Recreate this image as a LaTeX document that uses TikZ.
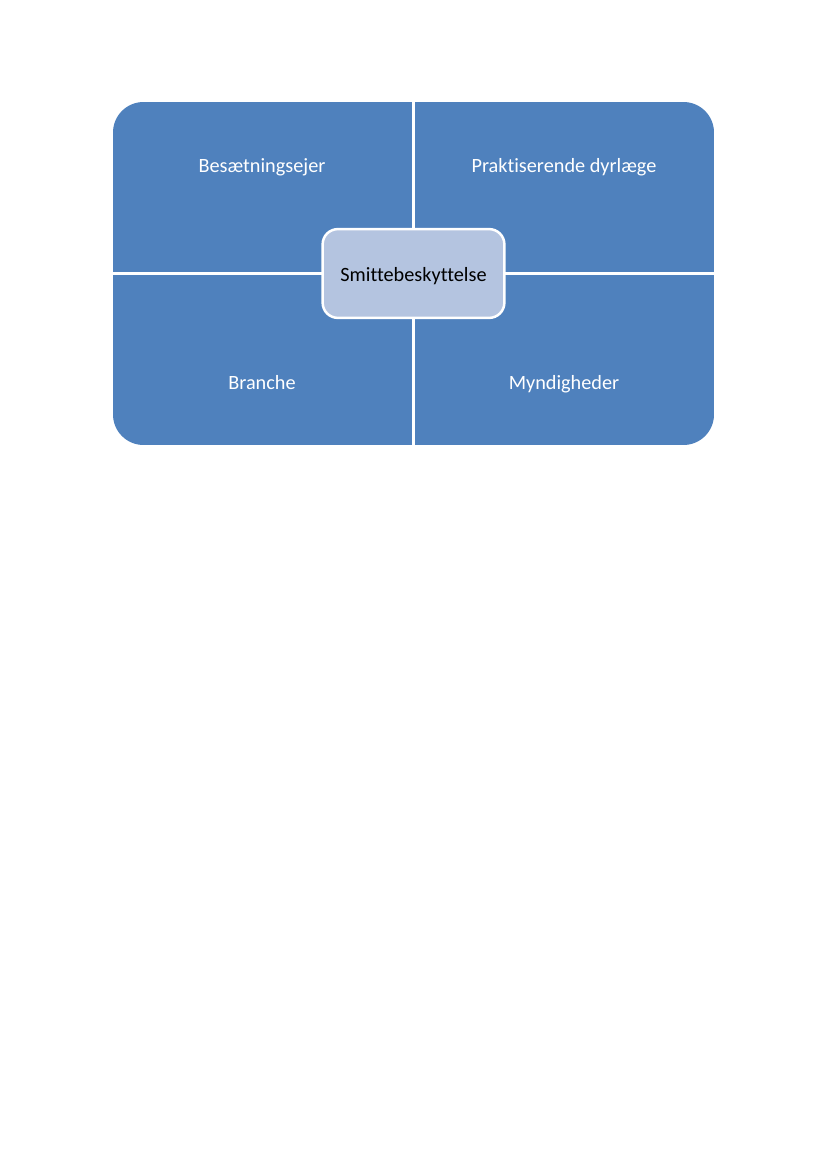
\documentclass[tikz,border=0pt]{standalone}
\usepackage{fontspec}
\setmainfont[Ligatures=NoCommon]{Carlito}
\definecolor{quadblue}{RGB}{79,129,189}
\definecolor{hubblue}{RGB}{180,196,224}

\begin{document}
\begin{tikzpicture}[x=0.7207pt,y=-0.7207pt,
    quad/.style={fill=quadblue},
    divider/.style={draw=white,line width=2.2pt},
    qlabel/.style={text=white,anchor=base,font=\fontsize{14.6}{17}\selectfont},
    hub/.style={draw=white,line width=1.8pt,fill=hubblue,rounded corners=11pt,
        minimum width=131pt,minimum height=64pt}]
    \useasboundingbox (0,0) rectangle (826,1169);

    % Quadrants
    \begin{scope}
        \clip[rounded corners=22pt] (113,102) rectangle (714,445);
        \fill[quad] (113,102) rectangle (714,445);
    \end{scope}
    \coordinate (top) at (413.5,102);
    \coordinate (bottom) at (413.5,445);
    \coordinate (left) at (113,273.5);
    \coordinate (right) at (714,273.5);
    \draw[divider] (top) -- (bottom);
    \draw[divider] (left) -- (right);

    % Labels
    \node[qlabel] (owner) at (262,173) {Besætningsejer};
    \node[qlabel] (vet) at (564,173) {Praktiserende dyrlæge};
    \node[qlabel] (trade) at (262,389) {Branche};
    \node[qlabel] (authority) at (564,389) {Myndigheder};

    % Centre
    \node[hub] (hub) at (413.5,273.5) {};
    \node[qlabel,text=black] (hubtext) at (413.5,281) {Smittebeskyttelse};
\end{tikzpicture}
\end{document}
